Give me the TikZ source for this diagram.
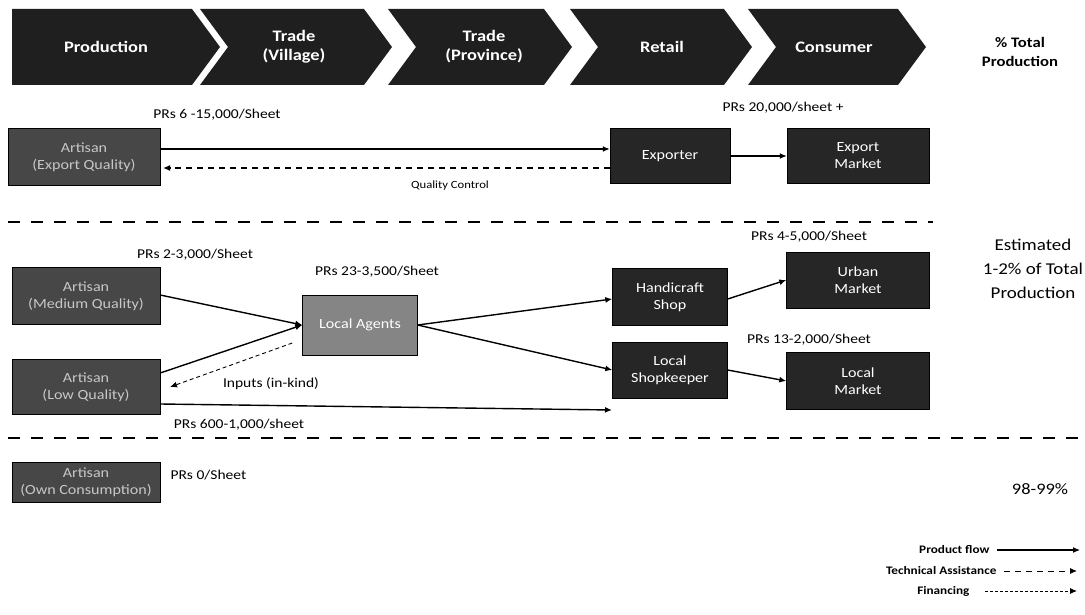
\documentclass[tikz,border=0pt]{standalone}
\usepackage{fontspec}
\setmainfont{Carlito}[FakeStretch=1.15]
\usetikzlibrary{arrows.meta}

\tikzset{
  darkbox/.style={draw=black, fill=black!85, text=white, align=center, inner sep=0pt, font=\fontsize{14}{17}\selectfont},
  artbox/.style={darkbox, fill=black!72, text=black!22},
  greybox/.style={darkbox, fill=black!48},
  price/.style={font=\fontsize{13.5}{16}\selectfont},
  flow/.style={line width=1.4pt, -{Latex[length=7pt,width=6pt]}},
  assist/.style={flow, line width=1.1pt, dash pattern=on 6pt off 5pt},
  divider/.style={line width=2.5pt, dash pattern=on 12pt off 11pt},
  chev/.style={fill=black!88},
  chevtext/.style={text=white, font=\bfseries\fontsize{16}{19}\selectfont, align=center},
  legtext/.style={anchor=east, font=\bfseries\fontsize{11.5}{13}\selectfont},
}

\begin{document}
\begin{tikzpicture}[x=1pt,y=-1pt]
\useasboundingbox (0,0) rectangle (1085,615);

% stages of the chain
\fill[chev] (12,9) -- (192,9) -- (220,47) -- (192,85) -- (12,85) -- cycle;
\foreach \l/\t in {200/392, 388/572, 570/752, 748/926}
  \fill[chev] (\l,9) -- (\t-28,9) -- (\t,47) -- (\t-28,85) -- (\l,85) -- (\l+28,47) -- cycle;

\node[chevtext] (stprod) at (106,47) {Production};
\node[chevtext] (stvill) at (294,47) {Trade\\(Village)};
\node[chevtext] (stprov) at (484,47) {Trade\\(Province)};
\node[chevtext] (stret) at (662,47) {Retail};
\node[chevtext] (stcons) at (834,47) {Consumer};
\node[font=\bfseries\fontsize{14.5}{19}\selectfont, align=center] (sttot) at (1020,52) {\% Total\\Production};

% export quality
\node[artbox, minimum width=152pt, minimum height=57pt] (artexp) at (84,157) {Artisan\\(Export Quality)};
\node[darkbox, minimum width=120pt, minimum height=55pt] (exporter) at (670,156) {Exporter};
\node[darkbox, minimum width=142pt, minimum height=55pt] (expmkt) at (858,156) {Export\\Market};

\node[price] (pexp) at (217,115) {PRs 6 -15,000/Sheet};
\node[price] (pexpmkt) at (783,108) {PRs 20,000/sheet +};
\node[font=\fontsize{11}{13}\selectfont] (qc) at (450,186) {Quality Control};

\draw[flow] ([yshift=8pt]artexp.east) -- ([yshift=7pt]exporter.west);
\draw[assist] ([yshift=-12pt]exporter.west) -- ([xshift=3pt,yshift=-11pt]artexp.east);
\draw[flow] (exporter) -- (expmkt);

\draw[divider] (8,222) -- (933,222);

% medium and low quality
\node[artbox, minimum width=148pt, minimum height=57pt] (artmed) at (86,296) {Artisan\\(Medium Quality)};
\node[artbox, minimum width=148pt, minimum height=55pt] (artlow) at (86,387) {Artisan\\(Low Quality)};
\node[greybox, minimum width=115pt, minimum height=60pt] (agents) at (360,325) {Local Agents};
\node[darkbox, minimum width=115pt, minimum height=57pt] (hshop) at (670,297) {Handicraft\\Shop};
\node[darkbox, minimum width=115pt, minimum height=56pt] (shopk) at (670,370) {Local\\Shopkeeper};
\node[darkbox, minimum width=143pt, minimum height=56pt] (urban) at (858,280) {Urban\\Market};
\node[darkbox, minimum width=143pt, minimum height=57pt] (lmkt) at (858,381) {Local\\Market};

\node[price] (pmed) at (195,255) {PRs 2-3,000/Sheet};
\node[price] (pagents) at (377,272) {PRs 23-3,500/Sheet};
\node[price] (plow) at (239,425) {PRs 600-1,000/sheet};
\node[price] (purban) at (809,237) {PRs 4-5,000/Sheet};
\node[price] (plocal) at (809,340) {PRs 13-2,000/Sheet};
\node[price] (inputs) at (271,384) {Inputs (in-kind)};

\node[font=\fontsize{16.5}{24}\selectfont, align=center] (share) at (1033,269) {Estimated\\1-2\% of Total\\Production};

\coordinate (lowend) at (612,410);
\coordinate (inend) at (170,387);
\draw[flow] (artmed.east |- 0,295) -- (agents.west);
\draw[flow] ([yshift=14pt]artlow.east) -- (agents.west);
\draw[assist, line width=0.9pt, dash pattern=on 4pt off 3pt] ([shift={(-10pt,-18pt)}]agents.west) -- (inend);
\draw[flow] ([yshift=-17pt]artlow.east) -- (lowend);
\draw[flow] (agents.east) -- ([yshift=-2pt]hshop.west);
\draw[flow] (agents.east) -- (shopk.west);
\draw[flow] ([yshift=-2pt]hshop.east) -- (urban.west);
\draw[flow] (shopk.east) -- (lmkt.west);

\draw[divider] (8,438) -- (1085,438);

% own consumption
\node[artbox, minimum width=148pt, minimum height=40pt] (artown) at (86,482) {Artisan\\(Own Consumption)};
\node[price, anchor=west] (pown) at (167,475) {PRs 0/Sheet};
\node[font=\fontsize{16}{19}\selectfont] (rest) at (1040,489) {98-99\%};

% legend
\node[legtext] (lgflow) at (993,550) {Product flow};
\node[legtext] (lgassist) at (1000,571) {Technical Assistance};
\node[legtext] (lgfin) at (973,591) {Financing};
\coordinate (lgflowend) at (1080,550);
\coordinate (lgassistend) at (1077,571);
\coordinate (lgfinend) at (1077,591);
\draw[flow, line width=1.1pt] ([xshift=4pt]lgflow.east) -- (lgflowend);
\draw[assist, line width=0.9pt] ([xshift=4pt]lgassist.east) -- (lgassistend);
\draw[assist, line width=0.9pt, dash pattern=on 3pt off 2pt] ([xshift=12pt]lgfin.east) -- (lgfinend);
\end{tikzpicture}
\end{document}
